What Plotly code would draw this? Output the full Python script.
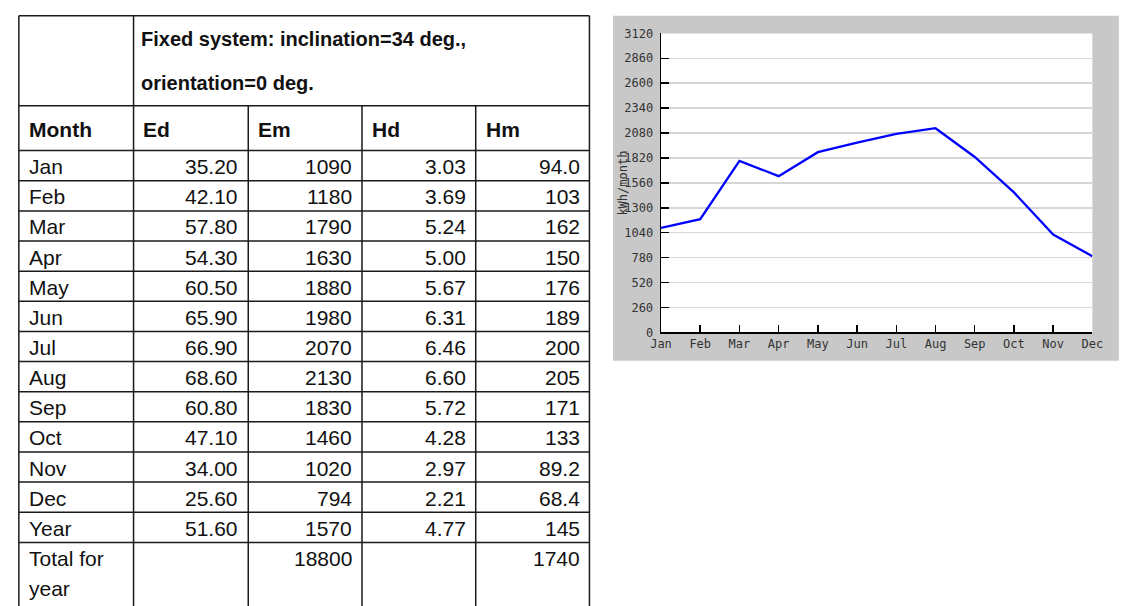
import plotly.graph_objects as go

# ---------------- data ----------------
months = ["Jan", "Feb", "Mar", "Apr", "May", "Jun", "Jul", "Aug", "Sep", "Oct", "Nov", "Dec"]
ed = [35.20, 42.10, 57.80, 54.30, 60.50, 65.90, 66.90, 68.60, 60.80, 47.10, 34.00, 25.60]
em = [1090, 1180, 1790, 1630, 1880, 1980, 2070, 2130, 1830, 1460, 1020, 794]
hd = [3.03, 3.69, 5.24, 5.00, 5.67, 6.31, 6.46, 6.60, 5.72, 4.28, 2.97, 2.21]
hm = [94.0, 103, 162, 150, 176, 189, 200, 205, 171, 133, 89.2, 68.4]
year_avg = {"Ed": 51.60, "Em": 1570, "Hd": 4.77, "Hm": 145}
year_total = {"Em": 18800, "Hm": 1740}
columns = ["Month", "Ed", "Em", "Hd", "Hm"]
header_lines = ["Fixed system: inclination=34 deg.,", "orientation=0 deg."]
y_title = "kWh/month"
y_ticks = [0, 260, 520, 780, 1040, 1300, 1560, 1820, 2080, 2340, 2600, 2860, 3120]

W, H = 1123, 606


def px(x):
    return x / W


def py(y):
    return 1 - y / H


def fmt2(v):
    return f"{v:.2f}"


def fmt_int(v):
    return f"{v:.0f}"


def fmt_hm(v):
    return f"{v:.1f}" if v < 100 else f"{v:.0f}"


fig = go.Figure()

fig.add_trace(go.Scatter(
    x=months, y=em, mode="lines",
    line=dict(color="#0000ff", width=2.3),
    showlegend=False, hoverinfo="skip",
))

shapes = []
# chart gray frame + white plot area
shapes.append(dict(type="rect", xref="paper", yref="paper",
                   x0=px(614), x1=px(1130), y0=py(362), y1=py(9),
                   fillcolor="#c8c8c8", line=dict(width=0), layer="below"))
shapes.append(dict(type="rect", xref="paper", yref="paper",
                   x0=px(663), x1=px(1103), y0=py(333), y1=py(27),
                   fillcolor="#ffffff", line=dict(width=0), layer="below"))

# ---------------- table ----------------
col_x = [8, 125, 242, 358, 474, 590]
top, hdr1, hdr2 = 9, 101, 147
row_h = 30.85
n_rows = len(months) + 1  # months + Year
line_style = dict(color="#1a1a1a", width=1.5)
BOTTOM = 640


def hline(y, x0, x1):
    shapes.append(dict(type="line", xref="paper", yref="paper",
                       x0=px(x0), x1=px(x1), y0=py(y), y1=py(y), line=line_style, layer="above"))


def vline(x, y0, y1):
    shapes.append(dict(type="line", xref="paper", yref="paper",
                       x0=px(x), x1=px(x), y0=py(y0), y1=py(y1), line=line_style, layer="above"))


hline(top, col_x[0], col_x[-1])
hline(hdr1, col_x[0], col_x[-1])
hline(hdr2, col_x[0], col_x[-1])
for k in range(1, n_rows + 1):
    hline(hdr2 + k * row_h, col_x[0], col_x[-1])
vline(col_x[0], top, BOTTOM)
vline(col_x[1], top, BOTTOM)
vline(col_x[-1], top, BOTTOM)
for cx in col_x[2:-1]:
    vline(cx, hdr1, BOTTOM)

annotations = []
TFONT = "Liberation Sans, Arial, sans-serif"


def text(x, y, s, anchor="left", bold=False, size=21):
    annotations.append(dict(
        x=px(x), y=py(y), xref="paper", yref="paper", text=(f"<b>{s}</b>" if bold else s),
        showarrow=False, xanchor=anchor, yanchor="middle",
        font=dict(family=TFONT, size=size, color="#111111"),
    ))


text(131, 33, header_lines[0], bold=True, size=20)
text(131, 78, header_lines[1], bold=True, size=20)
for i, c in enumerate(columns):
    text(col_x[i] + 8, 125, c, bold=True, size=21)

rows = [(m, [fmt2(ed[i]), fmt_int(em[i]), fmt2(hd[i]), fmt_hm(hm[i])]) for i, m in enumerate(months)]
rows.append(("Year", [fmt2(year_avg["Ed"]), fmt_int(year_avg["Em"]),
                      fmt2(year_avg["Hd"]), fmt_hm(year_avg["Hm"])]))
for r, (label, vals) in enumerate(rows):
    yc = hdr2 + r * row_h + row_h / 2 + 1
    text(col_x[0] + 8, yc, label)
    for j, v in enumerate(vals):
        text(col_x[j + 2] - 8, yc, v, anchor="right")

yt = hdr2 + n_rows * row_h + row_h / 2 + 1
text(col_x[0] + 8, yt, "Total for")
text(col_x[0] + 8, yt + row_h, "year")
text(col_x[3] - 8, yt, fmt_int(year_total["Em"]), anchor="right")
text(col_x[5] - 8, yt, fmt_int(year_total["Hm"]), anchor="right")

# y-axis title
annotations.append(dict(
    x=px(624), y=py(180), xref="paper", yref="paper", text=y_title,
    showarrow=False, textangle=-90, xanchor="center", yanchor="middle",
    font=dict(family="DejaVu Sans Mono, monospace", size=12, color="#333333"),
))

tick_font = dict(family="DejaVu Sans Mono, monospace", size=12, color="#333333")

fig.update_layout(
    width=W, height=H,
    margin=dict(l=0, r=0, t=0, b=0),
    paper_bgcolor="#ffffff", plot_bgcolor="#ffffff",
    shapes=shapes, annotations=annotations,
    hovermode=False,
    xaxis=dict(
        domain=[px(663), px(1103)],
        type="category", categoryorder="array", categoryarray=months,
        range=[0, len(months) - 1],
        showgrid=False, zeroline=False,
        showline=True, linecolor="#000000", linewidth=1.5,
        ticks="inside", ticklen=7, tickcolor="#000000", tickwidth=1.5,
        tickfont=tick_font, fixedrange=True,
    ),
    yaxis=dict(
        domain=[py(333), py(27)],
        range=[0, 3120],
        tickvals=y_ticks,
        showgrid=True, gridcolor="#d6d6d6", gridwidth=1.5,
        zeroline=False,
        showline=True, linecolor="#000000", linewidth=1.5,
        ticks="inside", ticklen=8, tickcolor="#000000", tickwidth=1.5,
        tickfont=tick_font, ticklabelstandoff=4, fixedrange=True,
    ),
)

fig.write_html(
    "out.html",
    config={"displayModeBar": False, "staticPlot": True},
    post_script="document.body.style.margin='0px';document.body.style.overflow='hidden';",
)
